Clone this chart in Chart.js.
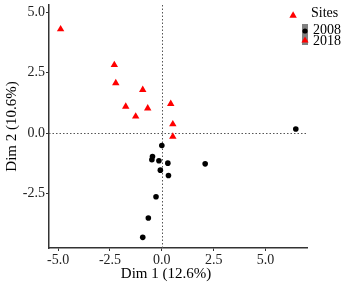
<!DOCTYPE html>
<html>
<head>
<meta charset="utf-8">
<script src="https://cdn.jsdelivr.net/npm/chart.js@4/dist/chart.umd.min.js"></script>
<style>
html,body{margin:0;padding:0;background:#fff;}
#wrap{width:349px;height:283px;}
</style>
</head>
<body>
<div id="wrap"><canvas id="c" width="349" height="283"></canvas></div>
<script>
const seriesNames = ['2008', '2018'];
const dim1_2008 = [6.46, 0.00, -0.45, -0.48, -0.14, 0.29, -0.07, 0.32, -0.28, -0.65, -0.92, 2.09];
const dim2_2008 = [0.17, -0.51, -0.97, -1.10, -1.14, -1.24, -1.53, -1.75, -2.63, -3.51, -4.31, -1.27];
const dim1_2018 = [-4.88, -2.29, -2.22, -1.74, -1.26, -0.92, -0.68, 0.43, 0.53, 0.53, 6.33];
const dim2_2018 = [4.30, 2.82, 2.07, 1.10, 0.69, 1.79, 1.03, 1.21, 0.37, -0.14, 4.86];
const xTickValues = [-5, -2.5, 0, 2.5, 5];
const xTickLabels = ['-5.0', '-2.5', '0.0', '2.5', '5.0'];
const yTickValues = [-2.5, 0, 2.5, 5];
const yTickLabels = ['-2.5', '0.0', '2.5', '5.0'];
const xTitle = 'Dim 1 (12.6%)';
const yTitle = 'Dim 2 (10.6%)';
const legendTitle = 'Sites';

const FONT = '"Liberation Serif", "DejaVu Serif", serif';

function pts(xs, ys){ return xs.map((x,i)=>({x:x, y:ys[i]})); }

const zeroLines = {
  id:'zeroLines',
  beforeDatasetsDraw(chart){
    const {ctx, chartArea:a, scales:{x, y}} = chart;
    const px = x.getPixelForValue(0), py = y.getPixelForValue(0);
    ctx.save();
    ctx.strokeStyle = '#555';
    ctx.lineWidth = 1;
    ctx.setLineDash([1.5, 2]);
    ctx.beginPath();
    ctx.moveTo(Math.round(px)+0.5, a.top); ctx.lineTo(Math.round(px)+0.5, a.bottom);
    ctx.moveTo(a.left, Math.round(py)+0.5); ctx.lineTo(a.right, Math.round(py)+0.5);
    ctx.stroke();
    ctx.restore();
  }
};

const xTitlePlugin = {
  id:'xTitlePlugin',
  afterDraw(chart){
    const ctx = chart.ctx;
    ctx.save();
    ctx.fillStyle = '#000';
    ctx.font = '15px ' + FONT;
    ctx.textAlign = 'center';
    ctx.textBaseline = 'alphabetic';
    ctx.fillText(xTitle, 166, 278);
    ctx.restore();
  }
};

const ggLegend = {
  id:'ggLegend',
  afterDraw(chart){
    const ctx = chart.ctx;
    ctx.save();
    ctx.fillStyle = '#000';
    ctx.font = '14px ' + FONT;
    ctx.textBaseline = 'alphabetic';
    ctx.textAlign = 'left';
    ctx.fillText(legendTitle, 311, 17);
    ctx.fillStyle = '#808080';
    ctx.fillRect(302, 24, 6, 21);
    ctx.fillStyle = '#000';
    ctx.beginPath(); ctx.arc(305, 31, 2.6, 0, Math.PI*2); ctx.fill();
    ctx.fillStyle = '#ff0000';
    ctx.beginPath();
    ctx.moveTo(305, 36.5); ctx.lineTo(308.6, 42.5); ctx.lineTo(301.4, 42.5); ctx.closePath(); ctx.fill();
    ctx.fillStyle = '#000';
    ctx.fillText(seriesNames[0], 313, 34);
    ctx.fillText(seriesNames[1], 313, 45);
    ctx.restore();
  }
};

new Chart(document.getElementById('c'), {
  type:'scatter',
  data:{
    datasets:[
      {label:seriesNames[0], data:pts(dim1_2008, dim2_2008), pointStyle:'circle', pointRadius:2.8,
       backgroundColor:'#000', borderColor:'#000', borderWidth:0, pointHoverRadius:2.8},
      {label:seriesNames[1], data:pts(dim1_2018, dim2_2018), pointStyle:'triangle', pointRadius:4.3,
       backgroundColor:'#ff0000', borderColor:'#ff0000', borderWidth:0, pointHoverRadius:4.3}
    ]
  },
  options:{
    responsive:false,
    animation:false,
    events:[],
    layout:{padding:{top:5, right:42, left:0, bottom:0}},
    plugins:{legend:{display:false}, tooltip:{enabled:false}},
    scales:{
      x:{
        type:'linear', min:-5.44, max:7.0,
        afterBuildTicks(s){ s.ticks = xTickValues.map(v=>({value:v})); },
        afterFit(s){ s.height = 35; s.paddingLeft = 0; s.paddingRight = 0; },
        ticks:{callback:(v)=>xTickLabels[xTickValues.indexOf(v)], color:'#222', padding:1,
               font:{family:FONT, size:14}, maxRotation:0, autoSkip:false},
        grid:{drawOnChartArea:false, drawTicks:true, tickLength:3, tickColor:'#333', tickWidth:1},
        border:{display:true, color:'#333', width:1.5},
        title:{display:false, text:xTitle}
      },
      y:{
        type:'linear', min:-4.75, max:5.3,
        afterBuildTicks(s){ s.ticks = yTickValues.map(v=>({value:v})); },
        afterFit(s){ s.width = 49; s.paddingTop = 0; s.paddingBottom = 0; },
        ticks:{callback:(v)=>yTickLabels[yTickValues.indexOf(v)], color:'#222', padding:1,
               font:{family:FONT, size:14}, autoSkip:false},
        grid:{drawOnChartArea:false, drawTicks:true, tickLength:3, tickColor:'#333', tickWidth:1},
        border:{display:true, color:'#333', width:1.5},
        title:{display:true, text:yTitle, color:'#000', font:{family:FONT, size:15}, padding:{top:3.5, bottom:0}}
      }
    }
  },
  plugins:[zeroLines, xTitlePlugin, ggLegend]
});
</script>
</body>
</html>
